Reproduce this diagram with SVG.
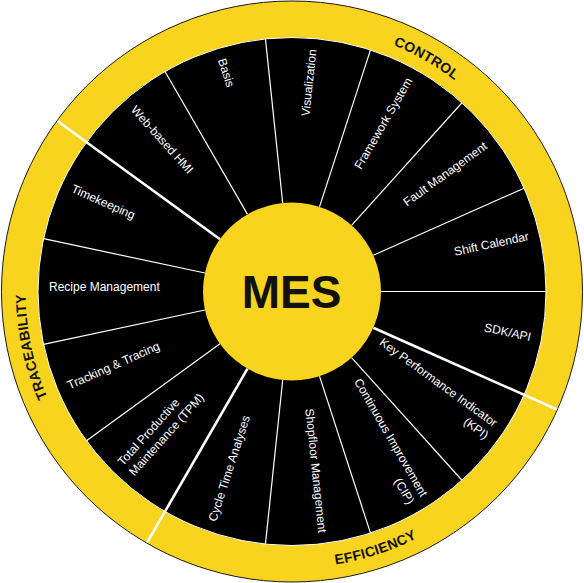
<svg xmlns="http://www.w3.org/2000/svg" width="584" height="583" viewBox="0 0 584 583">
<style>
.lbl{font-family:"Liberation Sans",Arial,Helvetica,sans-serif;font-size:12px;fill:#ffffff}
.r{text-anchor:end}
.cat{font-family:"Liberation Sans",Arial,Helvetica,sans-serif;font-size:14px;font-weight:bold;fill:#111111;letter-spacing:0.3px}
.thin{stroke:#ffffff;stroke-width:1.2}
.thick{stroke:#ffffff;stroke-width:2.6}
</style>
<defs>
<path id="arcControl" d="M120.69,87.36 A266.5,266.5 0 0 1 554.45,337.78"/>
<path id="arcTrace" d="M254.91,555.41 A266.5,266.5 0 0 1 150.78,65.5"/>
<path id="arcEff" d="M74.12,461.74 A276.5,276.5 0 0 0 568.33,301.15"/>
</defs>
<g id="ring">
<circle cx="292" cy="291.5" r="290.5" fill="#F8D41E" stroke="#1a1a1a" stroke-width="1"/>
<circle cx="292" cy="291.5" r="254" fill="#000000" stroke="#ffffff" stroke-width="1"/>
</g>
<g id="connectors">
<line class="thin" x1="292" y1="202.5" x2="292" y2="37.5" transform="rotate(18 292 291.5)"/>
<line class="thin" x1="292" y1="202.5" x2="292" y2="37.5" transform="rotate(42 292 291.5)"/>
<line class="thin" x1="292" y1="202.5" x2="292" y2="37.5" transform="rotate(66 292 291.5)"/>
<line class="thin" x1="292" y1="202.5" x2="292" y2="37.5" transform="rotate(90 292 291.5)"/>
<line class="thick" x1="292" y1="202.5" x2="292" y2="1.5" transform="rotate(114 292 291.5)"/>
<line class="thin" x1="292" y1="202.5" x2="292" y2="37.5" transform="rotate(138 292 291.5)"/>
<line class="thin" x1="292" y1="202.5" x2="292" y2="37.5" transform="rotate(162 292 291.5)"/>
<line class="thin" x1="292" y1="202.5" x2="292" y2="37.5" transform="rotate(186 292 291.5)"/>
<line class="thick" x1="292" y1="202.5" x2="292" y2="1.5" transform="rotate(210 292 291.5)"/>
<line class="thin" x1="292" y1="202.5" x2="292" y2="37.5" transform="rotate(234 292 291.5)"/>
<line class="thin" x1="292" y1="202.5" x2="292" y2="37.5" transform="rotate(258 292 291.5)"/>
<line class="thin" x1="292" y1="202.5" x2="292" y2="37.5" transform="rotate(282 292 291.5)"/>
<line class="thick" x1="292" y1="202.5" x2="292" y2="1.5" transform="rotate(306 292 291.5)"/>
<line class="thin" x1="292" y1="202.5" x2="292" y2="37.5" transform="rotate(330 292 291.5)"/>
<line class="thin" x1="292" y1="202.5" x2="292" y2="37.5" transform="rotate(354 292 291.5)"/>
</g>
<g id="categories">
<text class="cat"><textPath href="#arcControl" startOffset="50%" text-anchor="middle">CONTROL</textPath></text>
<text class="cat"><textPath href="#arcTrace" startOffset="50%" text-anchor="middle">TRACEABILITY</textPath></text>
<text class="cat"><textPath href="#arcEff" startOffset="50%" text-anchor="middle">EFFICIENCY</textPath></text>
</g>
<g id="center">
<circle cx="292" cy="291.5" r="89" fill="#F8D41E"/>
<text x="291.5" y="308" font-family="Liberation Sans,Arial,Helvetica,sans-serif" font-size="46" font-weight="bold" fill="#111111" text-anchor="middle">MES</text>
</g>
<g id="n-visualization"><text class="lbl r" x="535" y="290.5" transform="rotate(-84 292 291.5)">Visualization</text></g>
<g id="n-framework"><text class="lbl r" x="535" y="290.5" transform="rotate(-60 292 291.5)">Framework System</text></g>
<g id="n-fault"><text class="lbl r" x="535" y="290.5" transform="rotate(-36 292 291.5)">Fault Management</text></g>
<g id="n-shift"><text class="lbl r" x="535" y="290.5" transform="rotate(-12 292 291.5)">Shift Calendar</text></g>
<g id="n-sdk"><text class="lbl r" x="535" y="290.5" transform="rotate(12 292 291.5)">SDK/API</text></g>
<g id="n-kpi"><text class="lbl r" transform="rotate(36 292 291.5)"><tspan x="535" y="283">Key Performance Indicator</tspan><tspan x="535" y="298">(KPI)</tspan></text></g>
<g id="n-cip"><text class="lbl r" transform="rotate(60 292 291.5)"><tspan x="535" y="283">Continuous Improvement</tspan><tspan x="535" y="298">(CIP)</tspan></text></g>
<g id="n-shopfloor"><text class="lbl r" x="535" y="290.5" transform="rotate(84 292 291.5)">Shopfloor Management</text></g>
<g id="n-cycle"><text class="lbl" x="49" y="290.5" transform="rotate(-72 292 291.5)">Cycle Time Analyses</text></g>
<g id="n-tpm"><text class="lbl" transform="rotate(-48 292 291.5)"><tspan x="49" y="283">Total Productive</tspan><tspan x="49" y="298">Maintenance (TPM)</tspan></text></g>
<g id="n-tracking"><text class="lbl" x="49" y="290.5" transform="rotate(-24 292 291.5)">Tracking &amp; Tracing</text></g>
<g id="n-recipe"><text class="lbl" x="49" y="290.5">Recipe Management</text></g>
<g id="n-timekeeping"><text class="lbl" x="49" y="290.5" transform="rotate(24 292 291.5)">Timekeeping</text></g>
<g id="n-webhmi"><text class="lbl" x="49" y="290.5" transform="rotate(48 292 291.5)">Web-based HMI</text></g>
<g id="n-basis"><text class="lbl" x="49" y="290.5" transform="rotate(72 292 291.5)">Basis</text></g>
</svg>
